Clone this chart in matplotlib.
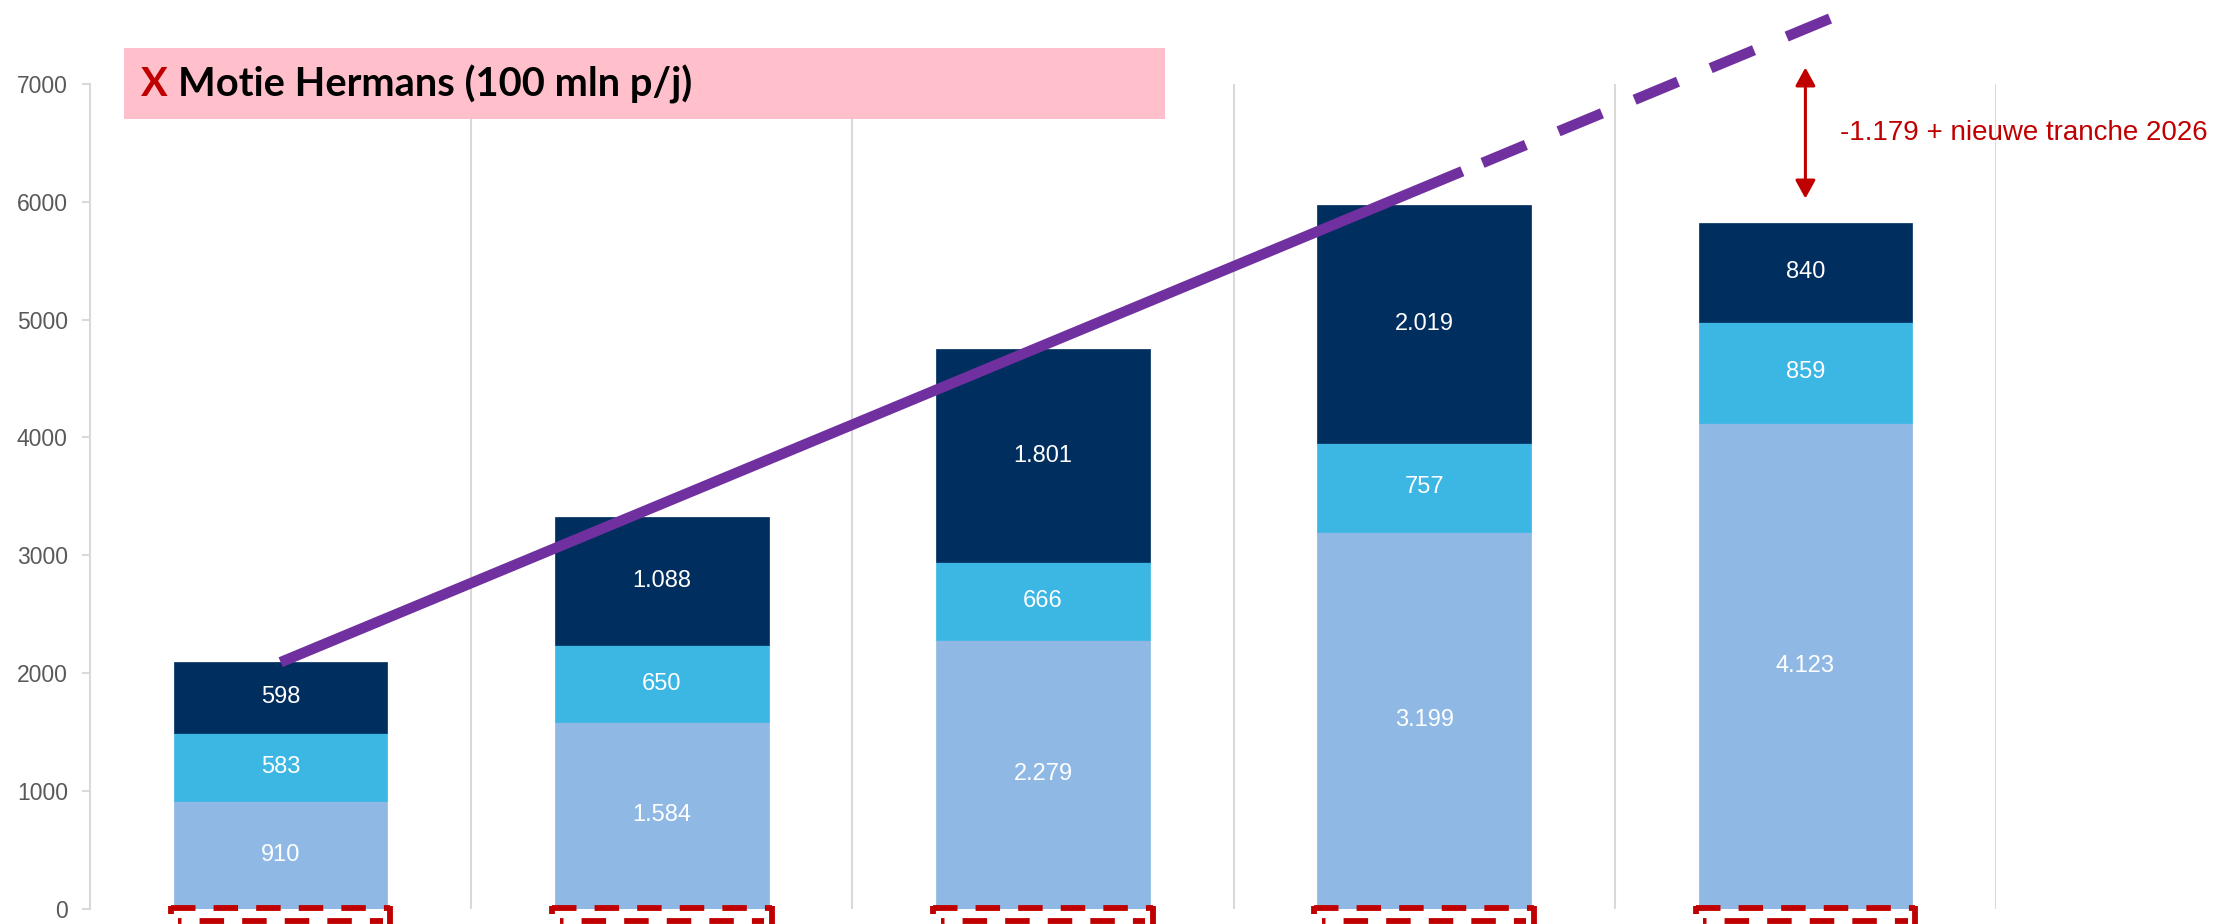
# Stacked bars with trend line and "Motie Hermans" banner
import matplotlib
matplotlib.use('Agg')
import matplotlib.pyplot as plt
import matplotlib.transforms as mtransforms
from matplotlib.patches import Rectangle
import numpy as np

# ----------------------------------------------------------------------------------------------------------------------
#  DATA
# ----------------------------------------------------------------------------------------------------------------------
base_values   = [910, 1584, 2279, 3199, 4123]
middle_values = [583, 650, 666, 757, 859]
top_values    = [598, 1088, 1801, 2019, 840]

trend_solid_x  = [0, 3.10]
trend_solid_y  = [2091, 6259]
trend_dashed_x = [3.153, 4.085]
trend_dashed_y = [6330, 7583]

gap_arrow_x = 4
gap_arrow_y = [6028, 7140]
gap_label   = '-1.179 + nieuwe tranche 2026'
gap_label_x = 4.09
gap_label_y = 6588

y_ticks     = list(range(0, 7001, 1000))
title_mark  = 'X'
title_text  = 'Motie Hermans (100 mln p/j)'

# ----------------------------------------------------------------------------------------------------------------------
#  STYLE
# ----------------------------------------------------------------------------------------------------------------------
c_base   = '#8FB9E4'
c_middle = '#3CB6E3'
c_top    = '#002E5E'
c_purple = '#7030A0'
c_red    = '#C00000'
c_grid   = '#D9D9D9'
c_tick   = '#595959'

plt.rcParams.update({'font.family': ['Liberation Sans', 'DejaVu Sans']})

W, H = 2230, 924
fig = plt.figure(figsize=(W / 100, H / 100), dpi=100)
ax  = fig.add_axes([90 / W, 1 - 908.5 / H, (1996 - 90) / W, (908.5 - 84) / H])

n   = len(base_values)
x   = np.arange(n)
bw  = 0.56

# category separators
ax.vlines(x[:-1] + 0.5, 0, 7000, color=c_grid, linewidth=1.5, zorder=0)
ax.vlines(x[-1] + 0.5, 0, 7000, color=c_grid, linewidth=1.5, zorder=0)

# stacked bars
bottoms = np.zeros(n)
for vals, col in [(base_values, c_base), (middle_values, c_middle), (top_values, c_top)]:
    vals = np.array(vals, dtype=float)
    ax.bar(x, vals, bw, bottom=bottoms, color=col, edgecolor=col, linewidth=0.5, zorder=2)
    for xi, b, v in zip(x, bottoms, vals):
        ax.text(xi, b + v / 2, f'{int(v):,}'.replace(',', '.'), ha='center', va='center',
                color='white', fontsize=17, zorder=3)
    bottoms += vals

# trend line
ax.plot(trend_solid_x, trend_solid_y, color=c_purple, linewidth=7.6,
        solid_capstyle='butt', clip_on=False, zorder=4)
ax.plot(trend_dashed_x, trend_dashed_y, color=c_purple, linewidth=7.6,
        linestyle=(0, (4.45, 3.35)), dash_capstyle='butt', clip_on=False, zorder=4)

# gap arrow + label
ax.annotate('', xy=(gap_arrow_x, gap_arrow_y[1]), xytext=(gap_arrow_x, gap_arrow_y[0]),
            arrowprops=dict(arrowstyle='<|-|>,head_length=1.0,head_width=0.55', color=c_red,
                            linewidth=2.2, mutation_scale=11, shrinkA=0, shrinkB=0),
            annotation_clip=False, zorder=5)
ax.text(gap_label_x, gap_label_y, gap_label, color=c_red, fontsize=20,
        ha='left', va='center', clip_on=False)

# dashed red boxes at the foot of each bar (cut off by the figure edge)
trans = mtransforms.blended_transform_factory(ax.transData, ax.transAxes)
px = 1 / (908.5 - 84)
for xi in x:
    xl, xr = xi - bw / 2 - 0.008, xi + bw / 2 + 0.008
    ax.plot([xl, xr], [0.5 * px, 0.5 * px], transform=trans, color=c_red, linewidth=4.2,
            linestyle=(0, (4.2, 3.1)), clip_on=False, zorder=5)
    ax.plot([xl + 0.02, xr - 0.02], [-12 * px, -12 * px], transform=trans, color=c_red,
            linewidth=4.2, linestyle=(3.6, (4.2, 3.1)), clip_on=False, zorder=5)
    ax.plot([xr, xr], [3 * px, -20 * px], transform=trans, color=c_red, linewidth=4.2,
            solid_capstyle='butt', clip_on=False, zorder=5)
    ax.plot([xl, xl], [3 * px, -5 * px], transform=trans, color=c_red, linewidth=4.2,
            solid_capstyle='butt', clip_on=False, zorder=5)

# axes
ax.set_xlim(-0.5, n - 0.5)
ax.set_ylim(0, 7000)
ax.set_yticks(y_ticks)
ax.set_xticks([])
for side in ['top', 'right', 'bottom']:
    ax.spines[side].set_visible(False)
ax.spines['left'].set_color(c_grid)
ax.spines['left'].set_linewidth(1.5)
ax.tick_params(axis='y', colors=c_grid, labelcolor=c_tick, labelsize=16.5,
               length=6, width=1.5, pad=10)

# banner
fig.add_artist(Rectangle((124 / W, 1 - 119 / H), (1165 - 124) / W, 71 / H,
                         transform=fig.transFigure, facecolor='#FFC0CB',
                         edgecolor='none', zorder=3))
t_mark = fig.text(141 / W, 1 - 84 / H, title_mark, color=c_red, fontsize=27,
                  fontweight='bold', family='Lato', ha='left', va='center', zorder=4)
t_rest = fig.text(0, 0, title_text, color='black', fontsize=27, fontweight='bold',
                  family='Lato', ha='left', va='center', zorder=4)

# fit banner text to the reference width
renderer = fig.canvas.get_renderer()
target = 692 - 141
for _ in range(3):
    bm = t_mark.get_window_extent(renderer)
    gap = 0.35 * t_mark.get_fontsize()
    t_rest.set_position(((bm.x1 + gap) / W, 1 - 84 / H))
    br = t_rest.get_window_extent(renderer)
    width = br.x1 - bm.x0
    scale = target / width
    t_mark.set_fontsize(t_mark.get_fontsize() * scale)
    t_rest.set_fontsize(t_rest.get_fontsize() * scale)
bm = t_mark.get_window_extent(renderer)
t_rest.set_position(((bm.x1 + 0.35 * t_mark.get_fontsize()) / W, 1 - 84 / H))

fig.savefig('out.png', dpi=100)
